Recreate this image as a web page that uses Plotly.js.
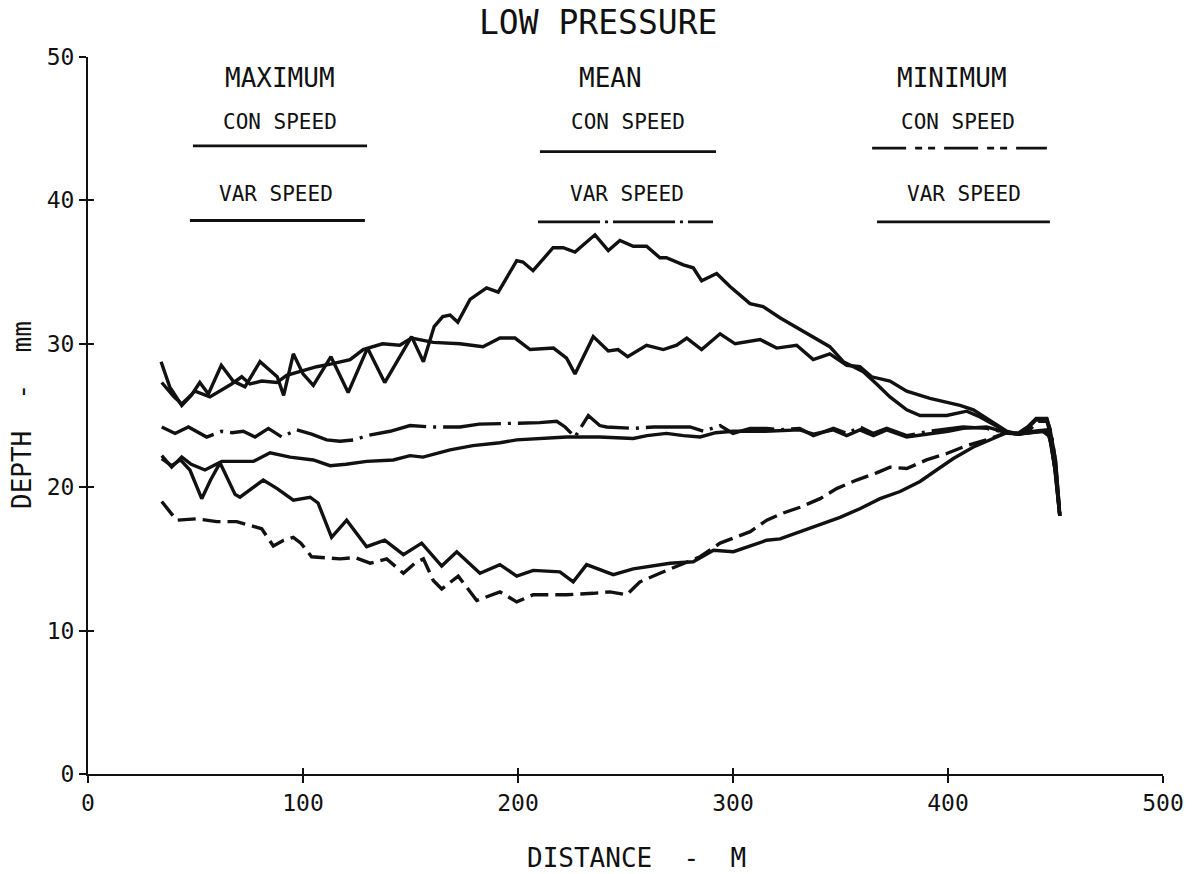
<!DOCTYPE html>
<html>
<head>
<meta charset="utf-8">
<script src="https://cdn.plot.ly/plotly-3.0.1.min.js"></script>
<style>
  html, body { margin: 0; padding: 0; background: #fff; }
  #chart { width: 1197px; height: 874px; }
</style>
</head>
<body>
<div id="chart"></div>
<script>
// ---- Data (distance in m, depth in mm) ----
const maxConX = [34, 38, 43.6, 48, 52, 56, 62, 67.5, 73, 80, 88, 91, 95.5, 100, 104.8, 113, 121, 130, 138, 150.5, 156, 161, 165, 168.4, 172, 177.7, 185.4, 190.8, 199.4, 202.3, 207, 216.3, 221, 226.5, 235.8, 242, 247.4, 253.6, 259.8, 266, 269, 276.9, 281.5, 285.4, 292.4, 298.6, 307.9, 314, 322, 334.3, 345, 351.3, 360.6, 366.8, 373, 380.8, 387, 399.4, 408.7, 414.9, 422.6, 428.8, 433, 437, 441, 446, 447.5, 450, 452];
const maxConY = [28.75, 27.0, 25.7, 26.4, 27.3, 26.5, 28.5, 27.4, 27.0, 28.75, 27.7, 26.4, 29.3, 27.9, 27.1, 29.1, 26.6, 29.7, 27.3, 30.5, 28.75, 31.2, 31.9, 32.0, 31.5, 33.1, 33.9, 33.6, 35.8, 35.7, 35.1, 36.7, 36.7, 36.4, 37.6, 36.5, 37.2, 36.8, 36.8, 36.0, 36.0, 35.5, 35.3, 34.4, 34.9, 34.0, 32.8, 32.6, 31.8, 30.7, 29.8, 28.75, 28.05, 27.2, 26.3, 25.4, 25.0, 25.0, 25.3, 24.9, 24.3, 23.75, 23.8, 24.2, 24.8, 24.8, 24.0, 21.9, 18.1];

const maxVarX = [34.3, 40, 43.6, 49.8, 56.7, 66.8, 71.5, 75.3, 80.8, 87.8, 92.4, 101.7, 106.4, 113.3, 121.9, 128, 137, 145, 150.5, 160.6, 173, 183.7, 191.6, 198.6, 205.6, 216.5, 222.6, 226.5, 235, 242, 246.5, 251, 259.8, 267.6, 273.8, 278.5, 285.4, 294, 301, 312.6, 320.3, 329.6, 337.3, 345, 352.9, 359, 364.5, 373, 380.8, 391.6, 405.6, 411.8, 418, 427.3, 433, 438, 444, 447, 449.5, 452];
const maxVarY = [27.3, 26.3, 25.8, 26.7, 26.3, 27.2, 27.7, 27.2, 27.4, 27.3, 27.8, 28.2, 28.4, 28.6, 28.9, 29.6, 30.0, 29.9, 30.4, 30.1, 30.0, 29.8, 30.4, 30.4, 29.6, 29.7, 29.0, 27.9, 30.5, 29.5, 29.6, 29.1, 29.9, 29.6, 29.9, 30.4, 29.6, 30.7, 30.0, 30.3, 29.7, 29.9, 28.9, 29.3, 28.5, 28.4, 27.7, 27.4, 26.7, 26.2, 25.7, 25.4, 24.8, 23.9, 23.7, 23.8, 23.9, 23.7, 21.5, 18.0];

const meanConX = [34.3, 38.9, 43.6, 48, 54.4, 62.2, 69.2, 76.9, 84.7, 94, 104.8, 112.6, 120, 129.6, 142, 149.8, 155.8, 168.4, 179, 191.6, 199.4, 210, 222.6, 238, 253.6, 260, 269, 277, 284.7, 292, 300, 315, 331, 337.4, 346.7, 352.9, 359, 365.3, 371.5, 380.8, 391.6, 400, 407, 418, 427.3, 433, 438, 444, 447.5, 450, 452];
const meanConY = [22.2, 21.4, 22.1, 21.6, 21.2, 21.8, 21.8, 21.8, 22.4, 22.1, 21.9, 21.5, 21.6, 21.8, 21.9, 22.2, 22.1, 22.6, 22.9, 23.1, 23.3, 23.4, 23.5, 23.5, 23.4, 23.6, 23.75, 23.6, 23.5, 23.8, 23.9, 23.9, 24.0, 23.7, 24.0, 23.6, 24.0, 23.6, 24.0, 23.5, 23.7, 23.9, 24.1, 24.2, 23.8, 23.7, 23.8, 23.9, 23.5, 21.0, 18.0];

const meanVarX = [34.3, 40.5, 46.7, 55.2, 62.2, 67, 72.2, 77.7, 83.9, 90.1, 97, 104, 111, 117.2, 124, 129.6, 140.5, 149.8, 160, 173, 182, 199.4, 210, 218, 221.9, 226.5, 232.7, 238, 241.2, 253.6, 263, 280, 286.2, 294, 300, 308, 315.7, 322, 331, 337.4, 346.7, 352.9, 359, 365.3, 371.5, 380.8, 391.6, 407, 418, 427.3, 433, 437, 441, 446, 448, 450, 452];
const meanVarY = [24.2, 23.75, 24.2, 23.5, 23.9, 23.8, 23.9, 23.5, 24.1, 23.5, 24.0, 23.7, 23.3, 23.2, 23.3, 23.6, 23.9, 24.3, 24.2, 24.2, 24.4, 24.45, 24.5, 24.6, 24.2, 23.5, 25.0, 24.3, 24.2, 24.1, 24.2, 24.2, 23.9, 24.3, 23.75, 24.1, 24.1, 24.0, 24.1, 23.6, 24.1, 23.75, 24.2, 23.75, 24.1, 23.6, 23.9, 24.2, 24.1, 23.8, 23.7, 24.1, 24.7, 24.7, 23.8, 21.8, 18.2];

const minConX = [34.3, 41.2, 50.6, 59.9, 69.2, 76.9, 80.8, 86.2, 91, 95.5, 99, 104, 117.2, 124, 131.2, 138.9, 146.7, 152, 156, 160.6, 164.5, 172.2, 177.7, 180.8, 191.6, 199.4, 207.1, 222.6, 235, 242.8, 250.6, 256.7, 266, 276.9, 284.7, 294, 308, 315.7, 323.4, 331.2, 340.5, 348.2, 357.5, 366.8, 373, 380.8, 390, 399.4, 408.7, 418, 427, 433, 438, 442, 446, 448, 450, 452];
const minConY = [19.0, 17.7, 17.8, 17.6, 17.6, 17.25, 17.1, 15.9, 16.3, 16.5, 16.1, 15.15, 15.0, 15.1, 14.7, 15.0, 14.0, 14.7, 15.0, 13.5, 12.9, 13.8, 12.7, 12.1, 12.7, 12.0, 12.5, 12.5, 12.6, 12.7, 12.5, 13.4, 14.0, 14.7, 15.15, 16.1, 16.9, 17.7, 18.2, 18.6, 19.2, 19.9, 20.5, 21.0, 21.4, 21.3, 21.9, 22.35, 22.9, 23.3, 23.8, 23.7, 24.0, 24.6, 24.6, 23.5, 21.5, 18.0];

const minVarX = [34.3, 38.9, 43, 47.4, 52.9, 57, 61.4, 68.4, 70.7, 81.5, 88, 95.5, 103.3, 107, 113.3, 120.3, 129.6, 138, 146.7, 155.2, 164.5, 171.5, 182.3, 191.6, 199.4, 207.1, 219.5, 225.7, 231.9, 244.3, 253.6, 270.7, 281.5, 290.9, 300.2, 315.7, 321.9, 337.4, 349.8, 359, 368.4, 377.7, 387, 394.7, 402.5, 411.8, 421, 427.3, 433, 440, 446, 448, 450, 452];
const minVarY = [22.0, 21.5, 21.9, 21.2, 19.2, 20.5, 21.7, 19.5, 19.3, 20.5, 19.9, 19.1, 19.3, 18.9, 16.5, 17.7, 15.85, 16.3, 15.3, 16.1, 14.5, 15.5, 14.0, 14.6, 13.8, 14.2, 14.1, 13.4, 14.6, 13.9, 14.3, 14.7, 14.8, 15.6, 15.5, 16.3, 16.4, 17.25, 17.9, 18.5, 19.2, 19.7, 20.4, 21.2, 22.0, 22.8, 23.4, 23.8, 23.7, 23.9, 24.0, 23.0, 21.0, 18.0];

const xTicks = [0, 100, 200, 300, 400, 500];
const yTicks = [0, 10, 20, 30, 40, 50];
const groupNames = ["MAXIMUM", "MEAN", "MINIMUM"];
const speedNames = ["CON SPEED", "VAR SPEED"];

// ---- Styles ----
const FONT = "'DejaVu Sans Mono', 'Liberation Mono', monospace";
const INK = "#111";
const DASH_MEANVAR = "58px,7px,3px,7px";
const DASH_MINCON = "18px,7px";

function curve(x, y, dash) {
  return { x: x, y: y, type: 'scatter', mode: 'lines',
    line: { color: INK, width: 3.4, dash: dash || 'solid', shape: 'linear' },
    hoverinfo: 'skip', showlegend: false };
}

const traces = [
  curve(maxConX, maxConY),
  curve(maxVarX, maxVarY),
  curve(meanConX, meanConY),
  curve(meanVarX, meanVarY, DASH_MEANVAR),
  curve(minConX, minConY, DASH_MINCON),
  curve(minVarX, minVarY),
  // overlay axes for the inward half of the crossing ticks
  { x: [null], y: [null], xaxis: 'x2', yaxis: 'y2', type: 'scatter', mode: 'lines', showlegend: false, hoverinfo: 'skip' }
];

// key (text + sample lines), positioned in data units
const groupCenters = [89.3, 243, 402];
const conCenters = [89.3, 251, 404.7];
const varCenters = [87.4, 250.7, 407.4];
const conLines = [[48.8, 129.8, 43.8, 'solid'], [210.2, 292.1, 43.4, 'solid'], [364.7, 446, 43.65, '34px,9px,7px,6px,7px,9px']];
const varLines = [[47.4, 128.8, 38.6, 'solid'], [209.3, 290.7, 38.5, '62px,5px,3px,5px'], [367, 447.4, 38.5, 'solid']];

const annotations = [];
groupNames.forEach((g, i) => {
  annotations.push({ x: groupCenters[i], y: 48.55, xref: 'x', yref: 'y', text: g, showarrow: false,
    font: { family: FONT, size: 26, color: INK }, xanchor: 'center', yanchor: 'middle' });
  annotations.push({ x: conCenters[i], y: 45.5, xref: 'x', yref: 'y', text: speedNames[0], showarrow: false,
    font: { family: FONT, size: 21, color: INK }, xanchor: 'center', yanchor: 'middle' });
  annotations.push({ x: varCenters[i], y: 40.45, xref: 'x', yref: 'y', text: speedNames[1], showarrow: false,
    font: { family: FONT, size: 21, color: INK }, xanchor: 'center', yanchor: 'middle' });
});
annotations.push({ x: 0.4744, y: 1.0488, xref: 'paper', yref: 'paper', text: 'LOW PRESSURE', showarrow: false,
  font: { family: FONT, size: 33, color: INK }, xanchor: 'center', yanchor: 'middle' });
annotations.push({ x: 0.5098, y: -0.1172, xref: 'paper', yref: 'paper', text: 'DISTANCE  -  M', showarrow: false,
  font: { family: FONT, size: 26, color: INK }, xanchor: 'center', yanchor: 'middle' });
annotations.push({ x: -0.0614, y: 0.5007, xref: 'paper', yref: 'paper', text: 'DEPTH  -  mm', showarrow: false, textangle: -90,
  font: { family: FONT, size: 26, color: INK }, xanchor: 'center', yanchor: 'middle' });

const shapes = [];
conLines.concat(varLines).forEach(s => {
  shapes.push({ type: 'line', xref: 'x', yref: 'y', x0: s[0], x1: s[1], y0: s[2], y1: s[2],
    line: { color: INK, width: 2.8, dash: s[3] } });
});

const axisCommon = {
  showgrid: false, zeroline: false, showline: true, linecolor: INK, linewidth: 2,
  ticks: 'outside', ticklen: 7, tickwidth: 2, tickcolor: INK,
  tickfont: { family: FONT, size: 23, color: INK }, fixedrange: true
};

const layout = {
  width: 1197, height: 874,
  margin: { l: 88, r: 34, t: 57, b: 100 },
  paper_bgcolor: '#fff', plot_bgcolor: '#fff',
  showlegend: false,
  xaxis: Object.assign({}, axisCommon, { range: [0, 500], tickvals: xTicks, ticktext: xTicks.map(String), anchor: 'y' }),
  yaxis: Object.assign({}, axisCommon, { range: [0, 50], tickvals: yTicks, ticktext: yTicks.map(String), anchor: 'x' }),
  xaxis2: { overlaying: 'x', range: [0, 500], tickvals: xTicks, ticks: 'inside', ticklen: 6, tickwidth: 2, tickcolor: INK,
    showticklabels: false, showline: false, showgrid: false, zeroline: false, anchor: 'y2', side: 'bottom', fixedrange: true },
  yaxis2: { overlaying: 'y', range: [0, 50], tickvals: yTicks, ticks: 'inside', ticklen: 6, tickwidth: 2, tickcolor: INK,
    showticklabels: false, showline: false, showgrid: false, zeroline: false, anchor: 'x2', side: 'left', fixedrange: true },
  annotations: annotations,
  shapes: shapes
};

Plotly.newPlot('chart', traces, layout, { displayModeBar: false, staticPlot: true });
</script>
</body>
</html>
